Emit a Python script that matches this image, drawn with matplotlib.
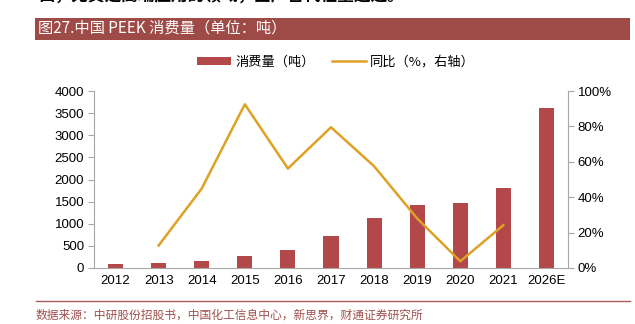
import matplotlib
matplotlib.use("Agg")
import matplotlib.pyplot as plt
from matplotlib.patches import Rectangle
from matplotlib.lines import Line2D
from matplotlib.ticker import FuncFormatter

plt.rcParams['font.family'] = ['Liberation Sans', 'Noto Sans CJK SC', 'DejaVu Sans']

years = ['2012', '2013', '2014', '2015', '2016', '2017', '2018', '2019', '2020', '2021', '2026E']
consumption = [100, 105, 150, 270, 410, 720, 1120, 1420, 1460, 1810, 3620]
yoy = [None, 12.7, 44.9, 92.5, 56.2, 79.5, 57.5, 28.0, 3.8, 24.2, None]

bar_color = '#B3484A'
line_color = '#DFA125'
axis_gray = '#A6A6A6'

fig = plt.figure(figsize=(6.35, 3.24), dpi=100)
W, H = 635, 324

# top clipped page text
fig.text(38 / W, 1 + 3 / H, '口，尤其是高端应用的领域，国产替代任重道远。', fontsize=12, fontweight='bold',
         color='black', ha='left', va='center', family=['Noto Sans CJK SC', 'DejaVu Sans'])

# title band
fig.patches.append(Rectangle((35 / W, 1 - 39.5 / H), (630 - 35) / W, 21.5 / H, transform=fig.transFigure,
                             facecolor='#9E4B47', edgecolor='none'))
fig.text(38 / W, 1 - 28.5 / H, '图27.中国 PEEK 消费量（单位：吨）', fontsize=11, color='white',
         ha='left', va='center', family=['Noto Sans CJK SC', 'DejaVu Sans'])

# footer
fig.add_artist(Line2D([36 / W, 630 / W], [1 - 301 / H, 1 - 301 / H], transform=fig.transFigure,
                      color='#A8605C', lw=1.0))
fig.text(36 / W, 1 - 315 / H, '数据来源：中研股份招股书，中国化工信息中心，新思界，财通证券研究所', fontsize=8.5,
         color='#A0504D', ha='left', va='center', family=['Noto Sans CJK SC', 'DejaVu Sans'])

ax = fig.add_axes([94 / W, 1 - 268 / H, (568 - 94) / W, (268 - 91) / H])
x = list(range(len(years)))
ax.bar(x, consumption, width=0.35, color=bar_color, zorder=2)
ax.set_xlim(-0.5, len(years) - 0.5)
ax.set_ylim(0, 4000)
ax.set_yticks(range(0, 4001, 500))
ax.set_xticks(x)
ax.set_xticklabels(years)
ax.tick_params(axis='y', labelsize=9.5, length=4, color=axis_gray, direction='out', pad=3)
ax.tick_params(axis='x', labelsize=9.5, length=0, pad=5)
for s in ['top', 'right']:
    ax.spines[s].set_visible(False)
for s in ['left', 'bottom']:
    ax.spines[s].set_color(axis_gray)
    ax.spines[s].set_linewidth(0.8)

ax2 = ax.twinx()
lx = [i for i, v in enumerate(yoy) if v is not None]
ly = [v for v in yoy if v is not None]
ax2.plot(lx, ly, color=line_color, lw=1.8, zorder=3)
ax2.set_ylim(0, 100)
ax2.set_yticks(range(0, 101, 20))
ax2.yaxis.set_major_formatter(FuncFormatter(lambda v, p: f'{int(v)}%'))
ax2.tick_params(axis='y', labelsize=9.5, length=4, color=axis_gray, direction='out', pad=3)
for s in ['top', 'left', 'bottom']:
    ax2.spines[s].set_visible(False)
ax2.spines['right'].set_color(axis_gray)
ax2.spines['right'].set_linewidth(0.8)

# legend
handles = [Rectangle((0, 0), 1, 1, facecolor=bar_color, edgecolor='none'),
           Line2D([0], [0], color=line_color, lw=1.8)]
labels = ['消费量（吨）', '同比（%，右轴）']
fig.legend(handles, labels, loc='center', bbox_to_anchor=(336 / W, 1 - 62 / H), ncol=2, frameon=False,
           handlelength=2.6, handleheight=0.5, columnspacing=1.3, handletextpad=0.3,
           prop={'family': ['Noto Sans CJK SC', 'DejaVu Sans'], 'size': 9.5})

fig.savefig('out.png', dpi=100)
